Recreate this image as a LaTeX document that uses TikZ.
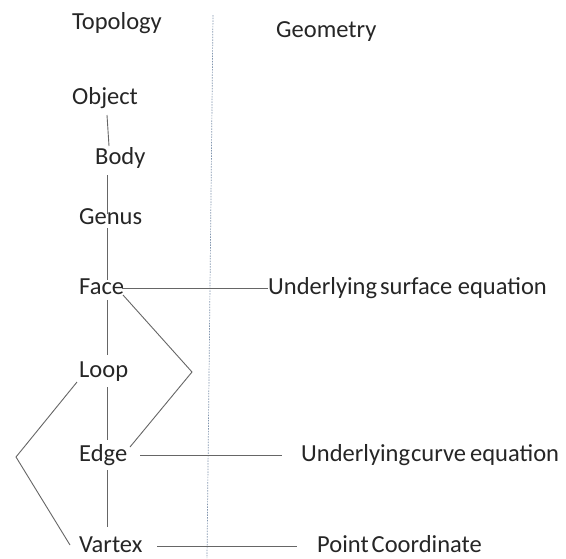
\documentclass[tikz,border=0pt]{standalone}
\usepackage{fontspec}
\setmainfont{Carlito}
\definecolor{sepcol}{RGB}{130,150,175}
\begin{document}
\begin{tikzpicture}[x=1pt,y=-1pt,
  lbl/.style={anchor=base west,inner sep=0pt,text=black!85,font=\fontsize{24.5}{28}\selectfont},
  conn/.style={draw=black!60,line width=0.9pt},
  sep/.style={draw=sepcol,line width=0.7pt,dash pattern=on 1.5pt off 1.2pt}]
\useasboundingbox[fill=white] (0,0) rectangle (566,558);
% labels
\node[lbl] (topo) at (72,29) {Topology};
\node[lbl] (geom) at (276,37) {Geometry};
\node[lbl] (obj) at (72,104) {Object};
\node[lbl] (body) at (95,164) {Body};
\node[lbl] (genus) at (79,224) {Genus};
\node[lbl] (face) at (79,294) {Face};
\node[lbl] (loop) at (79,377) {Loop};
\node[lbl] (edge) at (79,461) {Edge};
\node[lbl] (vert) at (79,552) {Vartex};
\node[lbl] (surf) at (268,294) {Underlying\hspace{3pt}surface equation};
\node[lbl] (curve) at (301,461) {Underlying\hspace{1pt}curve\hspace{4pt}equation};
\node[lbl] (point) at (317,552) {Point\hspace{3pt}Coordinate};
% separator
\coordinate (sepT) at (213,15);
\coordinate (sepB) at (207,558);
\draw[sep] (sepT) -- (sepB);
% connector end points
\coordinate (a1) at (107,115); \coordinate (a2) at (109,146);
\coordinate (b1) at (107,175); \coordinate (b2) at (107,214);
\coordinate (c1) at (107,228); \coordinate (c2) at (107,280);
\coordinate (d1) at (107,300); \coordinate (d2) at (107,355);
\coordinate (e1) at (107,387); \coordinate (e2) at (107,440);
\coordinate (f1) at (107,470); \coordinate (f2) at (107,527);
\coordinate (fr1) at (123,295); \coordinate (frm) at (192,372); \coordinate (fr2) at (130,447);
\coordinate (ll1) at (77,382); \coordinate (llm) at (16,457); \coordinate (ll2) at (70,545);
\coordinate (fs1) at (122,288); \coordinate (fs2) at (268,288);
\coordinate (ec1) at (140,455); \coordinate (ec2) at (282,455);
\coordinate (vp1) at (157,546); \coordinate (vp2) at (297,546);
% connectors
\draw[conn] (a1) -- (a2);
\draw[conn] (b1) -- (b2);
\draw[conn] (c1) -- (c2);
\draw[conn] (d1) -- (d2);
\draw[conn] (e1) -- (e2);
\draw[conn] (f1) -- (f2);
\draw[conn] (fr1) -- (frm) -- (fr2);
\draw[conn] (ll1) -- (llm) -- (ll2);
\draw[conn] (fs1) -- (fs2);
\draw[conn] (ec1) -- (ec2);
\draw[conn] (vp1) -- (vp2);
\end{tikzpicture}
\end{document}
